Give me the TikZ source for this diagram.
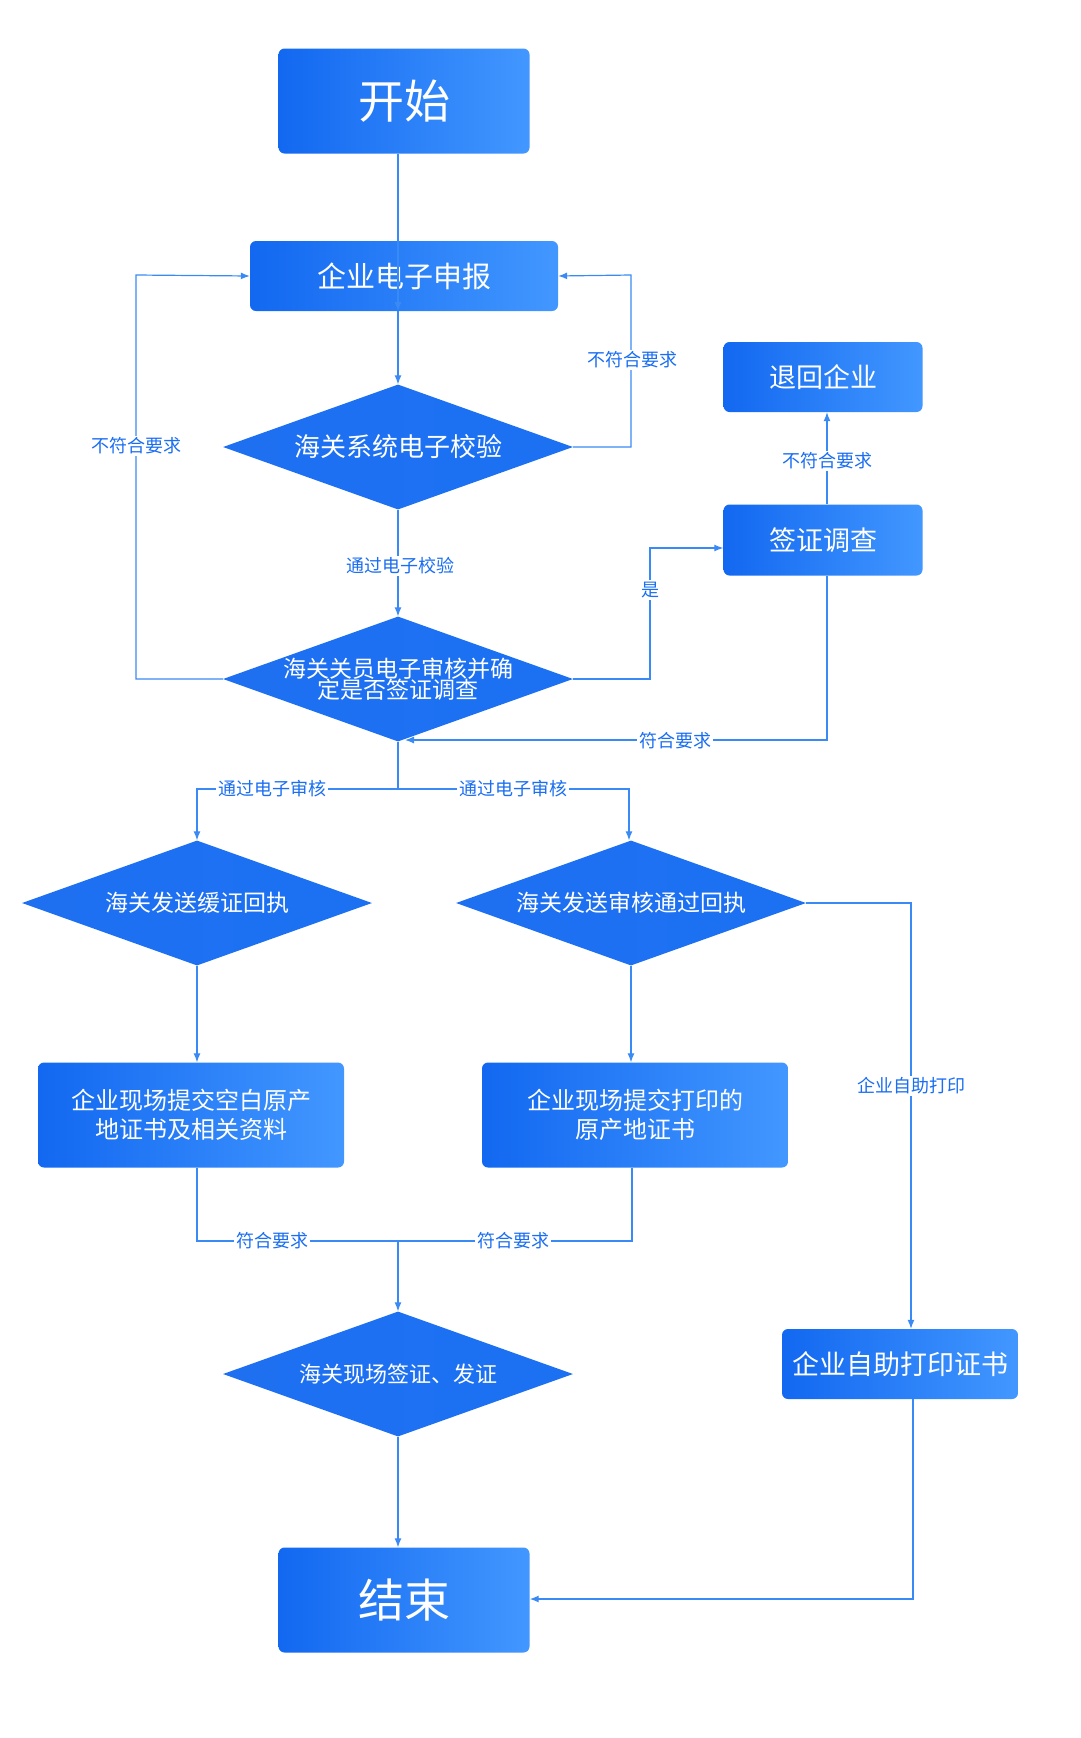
\documentclass[tikz,border=0pt]{standalone}
\usepackage{fontspec}
\setmainfont{Noto Sans CJK SC}
\usetikzlibrary{shapes.geometric,arrows.meta}
\definecolor{gl}{HTML}{1268F0}
\definecolor{gr}{HTML}{4297FF}
\definecolor{ln}{HTML}{3A8AF5}
\definecolor{lb}{HTML}{1A6EF2}
\begin{document}
\begin{tikzpicture}[x=1pt,y=-1pt,
 box/.style={rectangle,rounded corners=6pt,left color=gl,right color=gr,draw=none,text=white,align=center,inner sep=0},
 dia/.style={diamond,left color=gl!95!white,right color=gl!80!gr,draw=none,inner sep=0,minimum width=350pt,minimum height=125pt},
 dt/.style={text=white,align=center,font=\fontsize{23}{24}\selectfont},
 lab/.style={fill=white,text=lb,font=\fontsize{18}{20}\selectfont,inner sep=2pt},
 ar/.style={draw=ln,line width=1.2pt,-{Latex[length=9pt,width=7pt]}},
 li/.style={draw=ln,line width=1.2pt}]
\useasboundingbox (0,0) rectangle (1080,1738);
\node[box,minimum width=251pt,minimum height=105pt,font=\fontsize{46}{50}\selectfont] (start) at (404,101) {开始};
\node[box,minimum width=308pt,minimum height=70pt,font=\fontsize{29}{32}\selectfont] (apply) at (404,276) {企业电子申报};
\node[dia] (d1) at (398,447) {};
\node[dt,font=\fontsize{26}{28}\selectfont] at (d1) {海关系统电子校验};
\node[dia] (d2) at (398,679) {};
\node[dt] at (d2) {海关关员电子审核并确\\[-3pt]定是否签证调查};
\node[box,minimum width=199pt,minimum height=71pt,font=\fontsize{27}{30}\selectfont] (visa) at (823,540) {签证调查};
\node[box,minimum width=199pt,minimum height=70pt,font=\fontsize{27}{30}\selectfont] (ret) at (823,377) {退回企业};
\node[dia] (d3) at (197,903) {};
\node[dt] at (d3) {海关发送缓证回执};
\node[dia] (d4) at (631,903) {};
\node[dt] at (d4) {海关发送审核通过回执};
\node[box,minimum width=306pt,minimum height=105pt,font=\fontsize{24}{29}\selectfont] (b5) at (191,1115) {企业现场提交空白原产\\地证书及相关资料};
\node[box,minimum width=306pt,minimum height=105pt,font=\fontsize{24}{29}\selectfont] (b6) at (635,1115) {企业现场提交打印的\\原产地证书};
\node[dia] (d5) at (398,1374) {};
\node[dt,font=\fontsize{22}{24}\selectfont] at (d5) {海关现场签证、发证};
\node[box,minimum width=236pt,minimum height=70pt,font=\fontsize{27}{30}\selectfont] (self) at (900,1364) {企业自助打印证书};
\node[box,minimum width=251pt,minimum height=105pt,font=\fontsize{46}{50}\selectfont] (end) at (404,1600) {结束};

\draw[ar] (start.south -| d1) -- (apply.south -| d1);
\draw[ar] (apply.south -| d1) -- (d1.north);
\coordinate (r1) at (631,447); \coordinate (r2) at (631,275);
\draw[ar] (d1.east) -- (r1) -- (r2) -- (apply.east);
\node[lab] at (632,360) {不符合要求};
\coordinate (l1) at (136,679); \coordinate (l2) at (136,275);
\draw[ar] (d2.west) -- (l1) -- (l2) -- (apply.west);
\node[lab] at (136,446) {不符合要求};
\draw[ar] (d1.south) -- (d2.north);
\node[lab] at (400,566) {通过电子校验};
\draw[ar] (visa.north -| 827,0) -- (ret.south -| 827,0);
\node[lab] at (827,461) {不符合要求};
\coordinate (y1) at (650,679); \coordinate (y2) at (650,548);
\draw[ar] (d2.east) -- (y1) -- (y2) -- (visa.west |- y2);
\node[lab] at (650,590) {是};
\coordinate (v1) at (827,740); \coordinate (v2) at (405,740);
\draw[ar] (visa.south -| v1) -- (v1) -- (v2);
\node[lab] at (675,741) {符合要求};
\coordinate (s0) at (398,789); \coordinate (sl) at (197,789); \coordinate (sr) at (629,789);
\draw[li] (d2.south) -- (s0);
\draw[ar] (s0) -- (sl) -- (d3.north);
\draw[ar] (s0) -- (sr) -- (sr |- d4.north);
\node[lab] at (272,789) {通过电子审核};
\node[lab] at (513,789) {通过电子审核};
\draw[ar] (d3.south) -- (d3.south |- b5.north);
\draw[ar] (d4.south) -- (d4.south |- b6.north);
\coordinate (p1) at (911,903);
\draw[ar] (d4.east) -- (p1) -- (p1 |- self.north);
\node[lab] at (911,1086) {企业自助打印};
\coordinate (m0) at (398,1241); \coordinate (ml) at (197,1241); \coordinate (mr) at (632,1241);
\draw[li] (ml |- b5.south) -- (ml) -- (mr) -- (mr |- b6.south);
\draw[ar] (m0) -- (d5.north);
\node[lab] at (272,1241) {符合要求};
\node[lab] at (513,1241) {符合要求};
\draw[ar] (d5.south) -- (d5.south |- end.north);
\coordinate (e1) at (913,1599);
\draw[ar] (self.south -| e1) -- (e1) -- (end.east |- e1);
\end{tikzpicture}
\end{document}
